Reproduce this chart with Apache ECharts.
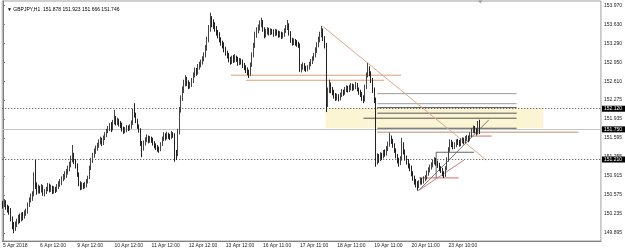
<!DOCTYPE html>
<html><head><meta charset="utf-8">
<script src="https://cdn.jsdelivr.net/npm/echarts@6/dist/echarts.min.js"></script>
<style>html,body{margin:0;padding:0;background:#fff}#c{width:625px;height:249px}</style>
</head><body><div id="c"></div>
<script>
// ---------- data ----------
const symbolTitle = '\u25BC GBPJPY,H1  151.878 151.923 151.666 151.746';
const timeLabels = ['5 Apr 2018','6 Apr 12:00','9 Apr 12:00','10 Apr 12:00','11 Apr 12:00','12 Apr 12:00','13 Apr 12:00','16 Apr 11:00','17 Apr 11:00','18 Apr 11:00','19 Apr 11:00','20 Apr 11:00','23 Apr 10:00'];
const barsPerLabel = 24;
const totalSlots = 387;
const priceTicks = [149.895,150.235,150.575,150.915,151.255,151.595,151.935,152.275,152.610,152.950,153.290,153.630,153.970];
const markedPrices = [152.118, 151.211];
const bidPrice = 151.746;
// candles: [open, close, low, high]
const day0 = [[150.42,150.39,150.33,150.47],[150.39,150.45,150.36,150.50],[150.45,150.36,150.31,150.48],[150.36,150.33,150.26,150.40],[150.33,150.30,150.22,150.38],[150.30,150.14,150.10,150.34],[150.14,150.05,149.96,150.19],[150.05,149.98,149.89,150.09],[149.98,150.06,149.93,150.10],[150.06,150.09,150.00,150.15],[150.09,150.17,150.05,150.22],[150.17,150.12,150.07,150.24],[150.12,150.21,150.10,150.26],[150.21,150.18,150.12,150.27],[150.18,150.25,150.15,150.30],[150.25,150.27,150.20,150.33],[150.27,150.40,150.24,150.44],[150.40,150.48,150.36,150.53],[150.48,150.52,150.44,150.60],[150.52,150.58,150.47,150.64],[150.58,150.90,150.55,150.98],[150.90,150.75,150.68,151.20],[150.75,150.64,150.58,150.80],[150.64,150.70,150.60,150.76]];
const day1 = [[150.70,150.66,150.60,150.74],[150.66,150.72,150.62,150.77],[150.72,150.60,150.56,150.75],[150.60,150.63,150.55,150.68],[150.63,150.68,150.59,150.72],[150.68,150.74,150.64,150.79],[150.74,150.67,150.62,150.78],[150.67,150.70,150.63,150.76],[150.70,150.64,150.59,150.74],[150.64,150.69,150.60,150.73],[150.69,150.66,150.61,150.72],[150.66,150.72,150.63,150.77],[150.72,150.77,150.68,150.82],[150.77,150.79,150.72,150.86],[150.79,150.86,150.75,150.91],[150.86,150.90,150.82,150.95],[150.90,150.93,150.85,151.00],[150.93,150.99,150.88,151.04],[150.99,151.05,150.94,151.10],[151.05,151.11,151.00,151.17],[151.11,151.20,151.07,151.28],[151.20,151.29,151.16,151.47],[151.29,151.18,151.13,151.33],[151.18,151.11,151.05,151.22]];
const day2 = [[151.11,150.95,150.90,151.14],[150.95,150.78,150.73,150.98],[150.78,150.70,150.66,150.82],[150.70,150.76,150.67,150.80],[150.76,150.72,150.68,150.79],[150.72,150.75,150.69,150.81],[150.75,150.82,150.71,150.86],[150.82,150.88,150.78,150.92],[150.88,151.05,150.86,151.10],[151.05,151.20,151.02,151.24],[151.20,151.28,151.15,151.33],[151.28,151.36,151.24,151.41],[151.36,151.41,151.31,151.46],[151.41,151.46,151.37,151.51],[151.46,151.52,151.42,151.57],[151.52,151.56,151.48,151.62],[151.56,151.50,151.45,151.60],[151.50,151.60,151.47,151.64],[151.60,151.65,151.56,151.70],[151.65,151.72,151.61,151.76],[151.72,151.77,151.68,151.81],[151.77,151.83,151.72,151.86],[151.83,151.76,151.70,151.88],[151.76,151.88,151.73,151.92]];
const day3 = [[151.88,151.95,151.84,152.10],[151.95,151.87,151.82,151.99],[151.87,151.91,151.83,151.96],[151.91,151.85,151.80,151.94],[151.85,151.83,151.77,151.90],[151.83,151.76,151.71,151.87],[151.76,151.72,151.67,151.80],[151.72,151.74,151.68,151.79],[151.74,151.79,151.70,151.83],[151.79,151.76,151.72,151.82],[151.76,151.79,151.73,151.84],[151.79,151.86,151.76,151.91],[151.86,152.05,151.83,152.12],[152.05,152.01,151.96,152.22],[152.01,151.90,151.86,152.05],[151.90,151.80,151.76,151.94],[151.80,151.74,151.69,151.84],[151.74,151.50,151.45,151.77],[151.50,151.41,151.25,151.54],[151.41,151.50,151.37,151.55],[151.50,151.56,151.46,151.61],[151.56,151.60,151.52,151.66],[151.60,151.55,151.50,151.64],[151.55,151.58,151.51,151.63]];
const day4 = [[151.58,151.56,151.51,151.62],[151.56,151.50,151.46,151.60],[151.50,151.46,151.41,151.54],[151.46,151.43,151.38,151.50],[151.43,151.40,151.35,151.47],[151.40,151.38,151.33,151.44],[151.38,151.48,151.36,151.52],[151.48,151.58,151.45,151.62],[151.58,151.65,151.54,151.70],[151.65,151.60,151.55,151.68],[151.60,151.66,151.57,151.71],[151.66,151.63,151.58,151.69],[151.63,151.61,151.56,151.67],[151.61,151.67,151.58,151.72],[151.67,151.65,151.60,151.70],[151.65,151.33,151.17,151.68],[151.33,151.29,151.20,151.38],[151.29,151.70,151.27,151.76],[151.70,152.10,151.66,152.15],[152.10,152.30,152.05,152.36],[152.30,152.46,152.26,152.52],[152.46,152.58,152.40,152.64],[152.58,152.64,152.52,152.72],[152.64,152.58,152.53,152.69]];
const day5 = [[152.58,152.52,152.47,152.63],[152.52,152.55,152.48,152.60],[152.55,152.62,152.51,152.67],[152.62,152.72,152.58,152.77],[152.72,152.81,152.68,152.86],[152.81,152.76,152.71,152.85],[152.76,152.86,152.73,152.92],[152.86,152.90,152.82,152.96],[152.90,152.95,152.86,153.00],[152.95,153.01,152.91,153.06],[153.01,153.08,152.97,153.13],[153.08,153.20,153.04,153.26],[153.20,153.35,153.16,153.41],[153.35,153.55,153.31,153.62],[153.55,153.71,153.50,153.84],[153.71,153.66,153.58,153.78],[153.66,153.62,153.55,153.72],[153.62,153.55,153.50,153.67],[153.55,153.48,153.43,153.60],[153.48,153.44,153.38,153.53],[153.44,153.36,153.31,153.49],[153.36,153.30,153.25,153.40],[153.30,153.26,153.20,153.34],[153.26,153.18,153.13,153.31]];
const day6 = [[153.18,153.12,153.07,153.23],[153.12,153.08,153.02,153.16],[153.08,153.00,152.95,153.12],[153.00,152.96,152.91,153.05],[152.96,153.02,152.92,153.07],[153.02,152.99,152.94,153.08],[152.99,153.03,152.95,153.10],[153.03,153.00,152.96,153.07],[153.00,152.94,152.89,153.05],[152.94,152.98,152.90,153.03],[152.98,152.96,152.91,153.02],[152.96,152.90,152.85,153.00],[152.90,152.86,152.81,152.94],[152.86,152.81,152.76,152.90],[152.81,152.78,152.72,152.86],[152.78,152.74,152.67,152.82],[152.74,152.90,152.71,152.95],[152.90,153.08,152.87,153.13],[153.08,153.25,153.04,153.30],[153.25,153.44,153.21,153.50],[153.44,153.52,153.39,153.58],[153.52,153.57,153.47,153.63],[153.57,153.64,153.52,153.70],[153.64,153.67,153.58,153.75]];
const day7 = [[153.67,153.55,153.50,153.71],[153.55,153.44,153.38,153.58],[153.44,153.50,153.40,153.55],[153.50,153.53,153.45,153.58],[153.53,153.48,153.43,153.57],[153.48,153.52,153.44,153.56],[153.52,153.50,153.45,153.55],[153.50,153.46,153.41,153.54],[153.46,153.51,153.42,153.55],[153.51,153.48,153.43,153.54],[153.48,153.44,153.39,153.52],[153.44,153.47,153.40,153.51],[153.47,153.42,153.37,153.50],[153.42,153.44,153.38,153.49],[153.44,153.52,153.41,153.56],[153.52,153.57,153.48,153.62],[153.57,153.62,153.53,153.71],[153.62,153.48,153.43,153.65],[153.48,153.35,153.30,153.51],[153.35,153.30,153.25,153.39],[153.30,153.33,153.26,153.38],[153.33,153.30,153.25,153.37],[153.30,153.28,153.23,153.35],[153.28,153.26,153.21,153.32]];
const day8 = [[153.26,152.81,152.78,153.29],[152.81,152.86,152.77,152.92],[152.86,152.90,152.82,152.95],[152.90,152.85,152.80,152.94],[152.85,152.82,152.78,152.89],[152.82,152.85,152.79,152.90],[152.85,152.92,152.82,152.96],[152.92,152.96,152.88,153.01],[152.96,153.02,152.92,153.06],[153.02,153.08,152.98,153.12],[153.08,153.17,153.04,153.22],[153.17,153.26,153.12,153.31],[153.26,153.36,153.22,153.41],[153.36,153.44,153.31,153.50],[153.44,153.53,153.40,153.60],[153.53,153.38,153.33,153.56],[153.38,153.26,153.20,153.42],[153.26,152.19,152.06,153.30],[152.19,152.45,152.15,152.50],[152.45,152.55,152.40,152.64],[152.55,152.46,152.40,152.59],[152.46,152.42,152.36,152.51],[152.42,152.35,152.30,152.46],[152.35,152.31,152.26,152.40]];
const day9 = [[152.31,152.34,152.27,152.39],[152.34,152.30,152.25,152.38],[152.30,152.37,152.27,152.41],[152.37,152.42,152.33,152.47],[152.42,152.40,152.35,152.46],[152.40,152.46,152.37,152.51],[152.46,152.49,152.42,152.54],[152.49,152.45,152.41,152.53],[152.45,152.49,152.42,152.55],[152.49,152.53,152.45,152.58],[152.53,152.48,152.44,152.57],[152.48,152.51,152.45,152.56],[152.51,152.55,152.47,152.60],[152.55,152.47,152.43,152.58],[152.47,152.42,152.37,152.50],[152.42,152.38,152.33,152.46],[152.38,152.31,152.26,152.42],[152.31,152.28,152.22,152.36],[152.28,152.50,152.25,152.55],[152.50,152.72,152.47,152.77],[152.72,152.85,152.68,152.94],[152.85,152.76,152.70,152.88],[152.76,152.64,152.58,152.79],[152.64,152.46,152.40,152.67]];
const day10 = [[152.46,152.28,152.22,152.50],[152.28,151.20,151.08,152.32],[151.20,151.25,151.12,151.32],[151.25,151.22,151.15,151.31],[151.22,151.29,151.18,151.34],[151.29,151.26,151.20,151.33],[151.26,151.34,151.23,151.38],[151.34,151.31,151.26,151.39],[151.31,151.40,151.28,151.45],[151.40,151.47,151.36,151.53],[151.47,151.60,151.44,151.69],[151.60,151.55,151.49,151.64],[151.55,151.47,151.42,151.58],[151.47,151.38,151.33,151.50],[151.38,151.28,151.23,151.41],[151.28,151.20,151.14,151.31],[151.20,151.15,151.08,151.24],[151.15,151.22,151.11,151.27],[151.22,151.47,151.19,151.60],[151.47,151.35,151.30,151.52],[151.35,151.24,151.19,151.39],[151.24,151.18,151.12,151.28],[151.18,151.10,151.05,151.22],[151.10,151.06,151.00,151.14]];
const day11 = [[151.06,150.96,150.91,151.10],[150.96,150.88,150.83,151.00],[150.88,150.82,150.76,150.92],[150.82,150.78,150.71,150.86],[150.78,150.75,150.65,150.82],[150.75,150.80,150.70,150.84],[150.80,150.84,150.76,150.89],[150.84,150.81,150.76,150.88],[150.81,150.86,150.78,150.91],[150.86,150.88,150.82,150.93],[150.88,150.96,150.85,151.01],[150.96,151.02,150.92,151.07],[151.02,151.07,150.98,151.12],[151.07,151.11,151.03,151.16],[151.11,151.16,151.07,151.21],[151.16,151.20,151.12,151.25],[151.20,151.15,151.10,151.24],[151.15,151.11,151.06,151.19],[151.11,151.05,151.00,151.15],[151.05,151.02,150.97,151.09],[151.02,150.96,150.91,151.06],[150.96,150.93,150.88,151.00],[150.93,151.05,150.90,151.09],[151.05,151.20,151.02,151.25]];
const day12 = [[151.20,151.38,151.17,151.43],[151.38,151.52,151.35,151.57],[151.52,151.48,151.43,151.56],[151.48,151.44,151.39,151.53],[151.44,151.47,151.40,151.52],[151.47,151.53,151.43,151.57],[151.53,151.52,151.47,151.58],[151.52,151.49,151.44,151.56],[151.49,151.54,151.45,151.59],[151.54,151.56,151.50,151.61],[151.56,151.53,151.48,151.60],[151.53,151.58,151.50,151.63],[151.58,151.60,151.54,151.65],[151.60,151.57,151.52,151.64],[151.57,151.65,151.54,151.70],[151.65,151.72,151.61,151.77],[151.72,151.77,151.68,151.82],[151.77,151.73,151.68,151.81],[151.73,151.70,151.64,151.77],[151.70,151.878,151.66,151.90],[151.878,151.746,151.666,151.923]];
// drawn objects: [fromBar, toBar, price] and [[bar, price], [bar, price]]
const orangeLevels = [[147.4,257.3,152.72],[157,246.3,152.63]];
const zoneBox = [208.6, 349.2, 152.13, 151.77];
const greyLevels = [[242,332,152.39],[242,332,152.21]];
const darkLevels = [[242,332,152.14],[242,332,152.04],[233,332,151.95],[242,332,151.77]];
const brownLevels = [[242,372,151.70]];
const downTrend = [[206.5,153.60],[312.4,151.20]];
const upTrendGrey = [[268.5,150.65],[314,151.92]];
const upTrendPink = [[269,150.66],[298,151.20]];
const boxLevels = [[269,294.6,150.88],[280,304.5,151.34],[301,315.9,151.63]];
const boxSide = [[280,151.34],[280,150.88]];
const shiftMarker = [308.5, 154.03];

// ---------- chart ----------
const candles = [].concat(day0,day1,day2,day3,day4,day5,day6,day7,day8,day9,day10,day11,day12);
const slots = [];
for (let i = 0; i < totalSlots; i++) slots.push(String(i));
const FONT = 'Liberation Sans';
const isLabelSlot = (i) => i % barsPerLabel === 0 && i / barsPerLabel < timeLabels.length;

function seg(points, color, width, type, z) {
  return {type:'line', xAxisIndex:1, yAxisIndex:0, data:points, symbol:'none', silent:true,
    animation:false, z:z||3, lineStyle:{color:color, width:width||1, type:type||'solid'}};
}
const overlay = [];
orangeLevels.forEach(l => overlay.push(seg([[l[0],l[2]],[l[1],l[2]]], '#d9a07a', 1)));
greyLevels.forEach(l => overlay.push(seg([[l[0],l[2]],[l[1],l[2]]], '#9a9a9a', 1)));
darkLevels.forEach(l => overlay.push(seg([[l[0],l[2]],[l[1],l[2]]], '#555555', 1)));
brownLevels.forEach(l => overlay.push(seg([[l[0],l[2]],[l[1],l[2]]], '#b89070', 1)));
overlay.push(seg(downTrend, '#dba98a', 1));
overlay.push(seg(upTrendGrey, '#777777', 1));
overlay.push(seg(upTrendPink, '#d08080', 1));
overlay.push(seg([[boxLevels[0][0],boxLevels[0][2]],[boxLevels[0][1],boxLevels[0][2]]], '#d07070', 1));
overlay.push(seg([[boxLevels[1][0],boxLevels[1][2]],[boxLevels[1][1],boxLevels[1][2]]], '#666666', 1));
overlay.push(seg([[boxLevels[2][0],boxLevels[2][2]],[boxLevels[2][1],boxLevels[2][2]]], '#d07070', 1));
overlay.push(seg(boxSide, '#666666', 1));
overlay.push({type:'scatter', xAxisIndex:1, yAxisIndex:0, data:[shiftMarker], symbol:'triangle', symbolRotate:180,
  symbolSize:[4,3], itemStyle:{color:'#888'}, silent:true, z:6});

const boxLabel = {show:true, position:'end', distance:1, fontSize:5, fontFamily:FONT, color:'#fff',
  backgroundColor:'#000', padding:[1,3,0,2], formatter:(p)=>p.value.toFixed(3)};

const chart = echarts.init(document.getElementById('c'), null, {renderer:'canvas'});
chart.setOption({
  animation:false,
  backgroundColor:'#fff',
  title:{text:symbolTitle, left:2, top:2, textStyle:{fontSize:5, fontWeight:'normal', color:'#000', fontFamily:FONT}},
  grid:{left:1, right:22, top:1, bottom:8, show:true, borderColor:'#a0a0a0', borderWidth:1},
  xAxis:[{
    type:'category', data:slots, boundaryGap:true,
    axisLine:{lineStyle:{color:'#808080'}},
    axisTick:{interval:(i)=>isLabelSlot(i), alignWithLabel:true, length:2, lineStyle:{color:'#808080'}},
    axisLabel:{interval:(i)=>isLabelSlot(i), formatter:(v,i)=>timeLabels[i/barsPerLabel]||'', align:'left',
      fontSize:5, fontFamily:FONT, color:'#222', margin:2},
    splitLine:{show:false}
  },{
    type:'value', min:-0.5, max:totalSlots-0.5, show:false
  }],
  yAxis:{
    type:'value', position:'right', min:149.75, max:154.05, scale:true,
    axisLine:{show:true, lineStyle:{color:'#808080'}},
    axisTick:{show:true, length:2, customValues:priceTicks, lineStyle:{color:'#808080'}},
    axisLabel:{customValues:priceTicks, formatter:(v)=>v.toFixed(3), fontSize:5, fontFamily:FONT, color:'#222', margin:3},
    splitLine:{show:false}
  },
  series:[{
    type:'candlestick', data:candles, barWidth:1, z:5,
    itemStyle:{color:'#ffffff', color0:'#222222', borderColor:'#444444', borderColor0:'#222222', borderWidth:1},
    markLine:{silent:true, symbol:'none', animation:false,
      data:[
        {yAxis:markedPrices[0], lineStyle:{type:[1,2], color:'#444', width:1}, label:boxLabel},
        {yAxis:bidPrice, lineStyle:{type:'solid', color:'#c4c4c4', width:1}, label:boxLabel},
        {yAxis:markedPrices[1], lineStyle:{type:[1,2], color:'#444', width:1}, label:boxLabel}
      ]}
  },{
    type:'line', xAxisIndex:1, data:[], silent:true, z:1,
    markArea:{silent:true, itemStyle:{color:'#fcf5d3'},
      data:[[{xAxis:zoneBox[0], yAxis:zoneBox[2]},{xAxis:zoneBox[1], yAxis:zoneBox[3]}]]}
  }].concat(overlay)
});
</script></body></html>
